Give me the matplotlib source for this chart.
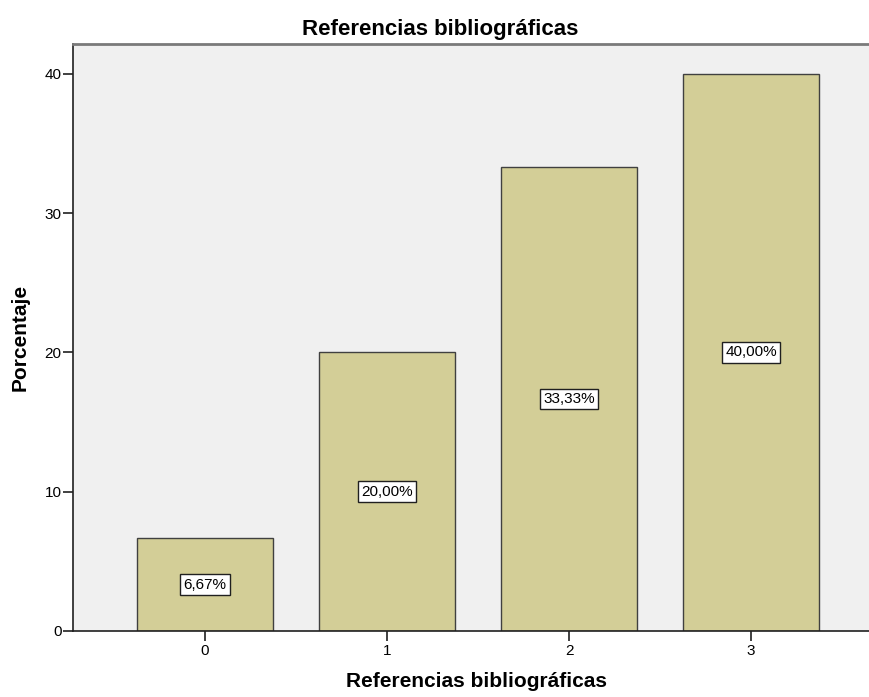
import matplotlib
matplotlib.use("Agg")
import matplotlib.pyplot as plt

categories = ["0", "1", "2", "3"]
values = [6.67, 20.00, 33.33, 40.00]
bar_labels = ["6,67%", "20,00%", "33,33%", "40,00%"]
yticks = [0, 10, 20, 30, 40]

plt.rcParams['font.family'] = ['Liberation Sans', 'DejaVu Sans']

W, H = 869, 697
fig = plt.figure(figsize=(W / 100, H / 100), dpi=100)
ax = fig.add_axes([73 / W, 66 / H, 1 - 73 / W, (631 - 44) / H])
ax.set_facecolor("#F0F0F0")

x = list(range(len(categories)))
ax.bar(x, values, width=0.75, color="#D3CE97", edgecolor="#404040", linewidth=1.0, zorder=2)

for xi, v, lab in zip(x, values, bar_labels):
    ax.text(xi, v / 2, lab, ha="center", va="center", fontsize=11, zorder=3,
            bbox=dict(boxstyle="square,pad=0.22", facecolor="white", edgecolor="#202020", linewidth=1.0))

ax.set_xlim(-0.725, 3.648)
ax.set_ylim(0, 42.15)
ax.set_xticks(x)
ax.set_xticklabels(categories)
ax.set_yticks(yticks)
ax.tick_params(axis="both", direction="out", length=7.2, width=1.2, color="#202020", labelsize=11)
ax.tick_params(axis="x", pad=2)
ax.tick_params(axis="y", pad=1)

for s in ["left", "bottom"]:
    ax.spines[s].set_color("#202020")
    ax.spines[s].set_linewidth(1.2)
ax.spines["top"].set_color("#7A7A7A")
ax.spines["top"].set_linewidth(2)
ax.spines["right"].set_visible(False)

fig.text(440 / W, 1 - 35 / H, "Referencias bibliográficas", ha="center", va="baseline",
         fontsize=16, fontweight="bold")
fig.text(477 / W, 1 - 687 / H, "Referencias bibliográficas", ha="center", va="baseline",
         fontsize=15, fontweight="bold")
fig.text(20 / W, 1 - 337 / H, "Porcentaje", ha="center", va="center", rotation=90,
         fontsize=15, fontweight="bold")

fig.savefig("out.png", dpi=100)
